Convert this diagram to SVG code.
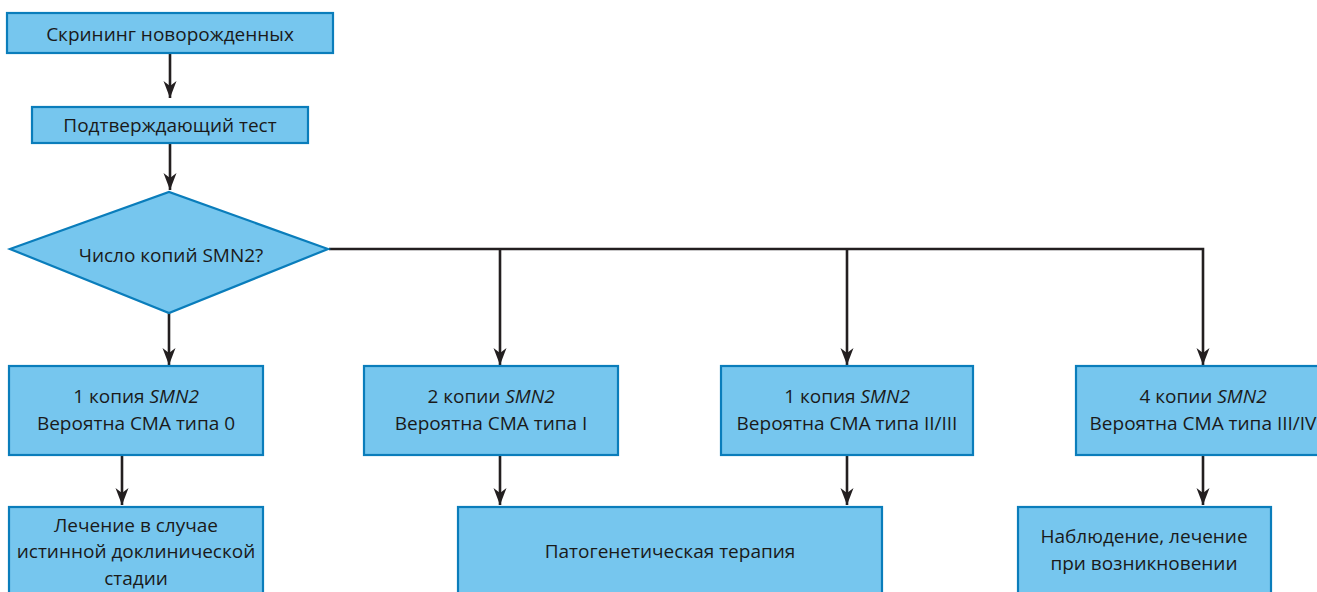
<svg xmlns="http://www.w3.org/2000/svg" width="1317" height="592" viewBox="0 0 1317 592">
<style>
.box{fill:#76c6ee;stroke:#0a7dbb;stroke-width:2.2}
.t{font-family:"Open Sans","Noto Sans",sans-serif;font-size:19px;fill:#1a1a1a;text-anchor:middle}
.i{font-style:italic}
.ln{fill:none;stroke:#231f20;stroke-width:2.6}
</style>
<defs>
<marker id="ah" markerUnits="userSpaceOnUse" markerWidth="20" markerHeight="16" viewBox="-18 -8 20 16" refX="0" refY="0" orient="auto">
<path d="M0,0 L-17,-6.5 L-12,0 L-17,6.5 Z" fill="#231f20"/>
</marker>
</defs>
<rect width="1317" height="592" fill="#ffffff"/>
<g id="connectors">
<path class="ln" d="M170,53 V98" marker-end="url(#ah)"/>
<path class="ln" d="M170,143 V190" marker-end="url(#ah)"/>
<path class="ln" d="M169,313 V365" marker-end="url(#ah)"/>
<path class="ln" d="M329,249 H1203 V365" marker-end="url(#ah)"/>
<path class="ln" d="M500,249 V365" marker-end="url(#ah)"/>
<path class="ln" d="M847,249 V365" marker-end="url(#ah)"/>
<path class="ln" d="M122,455 V505" marker-end="url(#ah)"/>
<path class="ln" d="M500,455 V505" marker-end="url(#ah)"/>
<path class="ln" d="M847,455 V505" marker-end="url(#ah)"/>
<path class="ln" d="M1203,455 V505" marker-end="url(#ah)"/>
</g>
<g id="screening">
<rect class="box" x="7" y="13" width="326" height="40"/>
<text class="t" x="170" y="40.5">Скрининг новорожденных</text>
</g>
<g id="confirm">
<rect class="box" x="32" y="107" width="276" height="36"/>
<text class="t" x="170" y="132">Подтверждающий тест</text>
</g>
<g id="decision">
<polygon class="box" points="10,249 169,192 328,249 169,313"/>
<text class="t" x="171" y="262">Число копий SMN2?</text>
</g>
<g id="copy1a">
<rect class="box" x="9" y="366" width="254" height="89"/>
<text class="t" x="136" y="403">1 копия <tspan class="i">SMN2</tspan></text>
<text class="t" x="136" y="430">Вероятна СМА типа 0</text>
</g>
<g id="copy2">
<rect class="box" x="364" y="366" width="254" height="89"/>
<text class="t" x="491" y="403">2 копии <tspan class="i">SMN2</tspan></text>
<text class="t" x="491" y="430">Вероятна СМА типа I</text>
</g>
<g id="copy1b">
<rect class="box" x="721" y="366" width="252" height="89"/>
<text class="t" x="847" y="403">1 копия <tspan class="i">SMN2</tspan></text>
<text class="t" x="847" y="430">Вероятна СМА типа II/III</text>
</g>
<g id="copy4">
<rect class="box" x="1076" y="366" width="254" height="89"/>
<text class="t" x="1203" y="403">4 копии <tspan class="i">SMN2</tspan></text>
<text class="t" x="1203" y="430">Вероятна СМА типа III/IV</text>
</g>
<g id="treat0">
<rect class="box" x="9" y="507" width="254" height="95"/>
<text class="t" x="136" y="532">Лечение в случае</text>
<text class="t" x="136" y="558">истинной доклинической</text>
<text class="t" x="136" y="585">стадии</text>
</g>
<g id="pathogenetic">
<rect class="box" x="458" y="507" width="424" height="95"/>
<text class="t" x="670" y="558">Патогенетическая терапия</text>
</g>
<g id="observe">
<rect class="box" x="1018" y="507" width="253" height="95"/>
<text class="t" x="1144" y="543">Наблюдение, лечение</text>
<text class="t" x="1144" y="570">при возникновении</text>
</g>
</svg>
